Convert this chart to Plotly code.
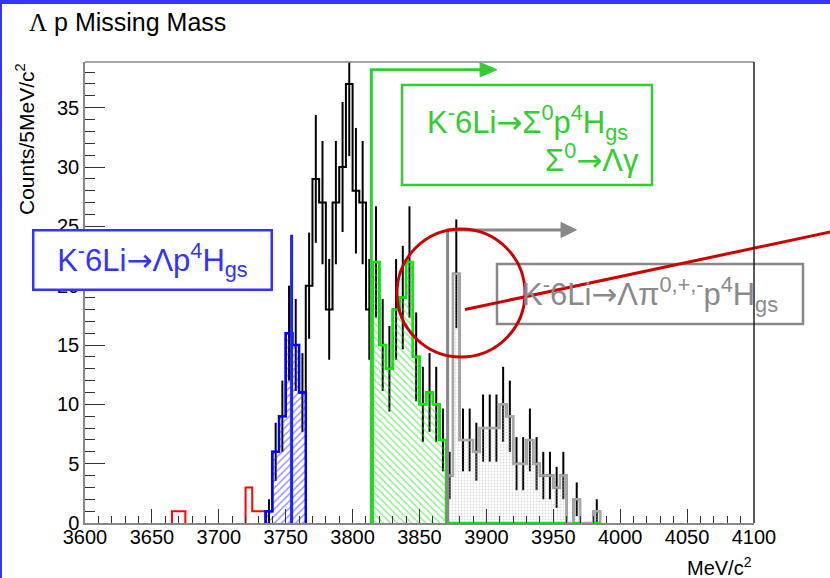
import numpy as np
import plotly.graph_objects as go

BIN_WIDTH = 5.0  # MeV/c^2 per bin

# All Lambda-p events, 5 MeV/c^2 bins starting at 3735 MeV/c^2
all_start = 3735.0
all_counts = [1, 6, 9, 16, 15, 11,
              20, 29, 27, 18, 27, 30, 37, 28, 27, 18,
              22, 15, 13, 18, 19, 22, 14, 10, 11, 10, 7,
              4, 21, 7, 7, 6, 8, 8, 8, 10, 9, 5, 5, 7, 5, 4, 4, 3, 4, 0, 2, 0, 0, 1]

# Channel windows (bin edges, MeV/c^2)
lambda_p_range = (3735.0, 3765.0)
sigma0_range = (3815.0, 3870.0)
lambda_pi_range = (3870.0, 3985.0)

# Events below the Lambda-p window
low_starts = [3665.0, 3720.0]
low_counts = [[1, 1], [3, 1, 1]]

# Thresholds (MeV/c^2) and marker heights (counts)
thr_lambda_p, thr_lambda_p_top = 3754.4, 24.3
thr_sigma0, thr_sigma0_top, thr_sigma0_tip = 3814.0, 38.2, 3907.8
thr_lambda_pi, thr_lambda_pi_top, thr_lambda_pi_tip = 3871.0, 24.7, 3967.3

x_ticks = list(range(3600, 4101, 50))
y_ticks = list(range(0, 36, 5))
X_RANGE = (3600, 4100)
Y_MAX = 38.85

W, H = 830, 578
ML, MR, MT, MB = 85, 76, 62, 55
FONT = "Liberation Sans, Arial, sans-serif"
ARROW = "<span style='font-family:DejaVu Sans'>→</span>"
LABEL_SIZE = 31


def px(x):
    return (x - ML) / (W - ML - MR)


def py(y):
    return (H - MB - y) / (H - MT - MB)


def step_xy(start, counts):
    xs, ys = [start], [0]
    for i, c in enumerate(counts):
        x0 = start + i * BIN_WIDTH
        xs += [x0, x0 + BIN_WIDTH]
        ys += [c, c]
    xs.append(start + len(counts) * BIN_WIDTH)
    ys.append(0)
    return xs, ys


def window(rng):
    i0 = int(round((rng[0] - all_start) / BIN_WIDTH))
    i1 = int(round((rng[1] - all_start) / BIN_WIDTH))
    return rng[0], all_counts[i0:i1]


counts = np.array(all_counts, dtype=float)
centers = all_start + BIN_WIDTH * (np.arange(len(counts)) + 0.5)
nz = counts > 0

fig = go.Figure()

# full spectrum outline
sx, sy = step_xy(all_start, all_counts)
fig.add_trace(go.Scatter(x=sx, y=sy, mode="lines",
                         line=dict(color="black", width=2), hoverinfo="skip"))
# Poisson error bars
fig.add_trace(go.Scatter(x=centers[nz], y=counts[nz], mode="markers",
                         marker=dict(size=1, color="black"),
                         error_y=dict(type="data", array=np.sqrt(counts[nz]),
                                      color="black", thickness=2, width=0),
                         hoverinfo="skip"))

# low-mass events
for s, c in zip(low_starts, low_counts):
    lx, ly = step_xy(s, c)
    fig.add_trace(go.Scatter(x=lx, y=ly, mode="lines",
                             line=dict(color="#ff0000", width=2), hoverinfo="skip"))

# Lambda p 4H window
bs, bc = window(lambda_p_range)
bx, by = step_xy(bs, bc)
fig.add_trace(go.Scatter(x=bx, y=by, mode="lines", fill="toself",
                         fillcolor="rgba(0,0,0,0)",
                         fillpattern=dict(shape="/", fgcolor="#3030ff", size=5, solidity=0.3),
                         line=dict(color="#0000ff", width=2.5), hoverinfo="skip"))

# Lambda pi p 4H window
gs_, gc = window(lambda_pi_range)
gx, gy = step_xy(gs_, gc)
fig.add_trace(go.Scatter(x=gx, y=gy, mode="lines", fill="toself",
                         fillcolor="rgba(0,0,0,0)",
                         fillpattern=dict(shape=".", fgcolor="#b8b8b8", size=3, solidity=0.3),
                         line=dict(color="#a8a8a8", width=2.5), hoverinfo="skip"))

# Sigma0 p 4H window
ss, sc = window(sigma0_range)
qx, qy = step_xy(ss, sc)
fig.add_trace(go.Scatter(x=qx, y=qy, mode="lines", fill="toself",
                         fillcolor="rgba(0,0,0,0)",
                         fillpattern=dict(shape="\\", fgcolor="#22dd22", size=5, solidity=0.3),
                         line=dict(color="#00ee00", width=2.5), hoverinfo="skip"))
# its empty bins under the Lambda-pi window
zx, zy = [], []
for i, c in enumerate(gc):
    if c > 0:
        x0 = gs_ + i * BIN_WIDTH
        zx += [x0, x0 + BIN_WIDTH, None]
        zy += [0, 0, None]
fig.add_trace(go.Scatter(x=zx, y=zy, mode="lines",
                         line=dict(color="#00ee00", width=2.5), hoverinfo="skip"))

shapes = []
# threshold markers
shapes.append(dict(type="line", xref="x", yref="y", x0=thr_lambda_p, x1=thr_lambda_p,
                   y0=0, y1=thr_lambda_p_top, line=dict(color="#2020ff", width=3)))
green = "#33cc33"
shapes.append(dict(type="path", xref="x", yref="y",
                   path=f"M{thr_sigma0},0 L{thr_sigma0},{thr_sigma0_top} L{thr_sigma0_tip - 10},{thr_sigma0_top}",
                   line=dict(color=green, width=3)))
shapes.append(dict(type="path", xref="x", yref="y",
                   path=f"M{thr_sigma0_tip - 12.5},{thr_sigma0_top - 0.6} L{thr_sigma0_tip},{thr_sigma0_top} "
                        f"L{thr_sigma0_tip - 12.5},{thr_sigma0_top + 0.6} Z",
                   line=dict(color=green, width=1), fillcolor=green))
grey = "#888888"
shapes.append(dict(type="path", xref="x", yref="y",
                   path=f"M{thr_lambda_pi},0 L{thr_lambda_pi},{thr_lambda_pi_top} L{thr_lambda_pi_tip - 10},{thr_lambda_pi_top}",
                   line=dict(color=grey, width=3)))
shapes.append(dict(type="path", xref="x", yref="y",
                   path=f"M{thr_lambda_pi_tip - 11.5},{thr_lambda_pi_top - 0.63} L{thr_lambda_pi_tip},{thr_lambda_pi_top} "
                        f"L{thr_lambda_pi_tip - 11.5},{thr_lambda_pi_top + 0.63} Z",
                   line=dict(color=grey, width=1), fillcolor=grey))

# channel label frames
shapes.append(dict(type="rect", xref="paper", yref="paper", x0=px(402), x1=px(652),
                   y0=py(185), y1=py(85), line=dict(color=green, width=2.5)))
shapes.append(dict(type="rect", xref="paper", yref="paper", x0=px(497), x1=px(803),
                   y0=py(324), y1=py(264), line=dict(color=grey, width=2.5)))

# highlight of the narrow peak
red = "#cc0000"
shapes.append(dict(type="circle", xref="paper", yref="paper", x0=px(397), x1=px(525),
                   y0=py(357), y1=py(229), line=dict(color=red, width=3)))
shapes.append(dict(type="line", xref="paper", yref="paper", x0=px(465), y0=py(309.5),
                   x1=px(832), y1=py(231.6), line=dict(color=red, width=3)))

# canvas border
shapes.append(dict(type="rect", xref="paper", yref="paper", x0=px(0), x1=px(W),
                   y0=py(4), y1=py(0), line=dict(width=0), fillcolor="#3535ff"))
shapes.append(dict(type="rect", xref="paper", yref="paper", x0=px(0), x1=px(2),
                   y0=py(H), y1=py(0), line=dict(width=0), fillcolor="#3535ff"))
# frame top and right
shapes.append(dict(type="line", xref="paper", yref="paper", x0=0, x1=1, y0=1, y1=1,
                   line=dict(color="#888888", width=1.5)))
shapes.append(dict(type="line", xref="paper", yref="paper", x0=1, x1=1, y0=0, y1=1,
                   line=dict(color="#222222", width=1.5)))

blue_t = "#3333ff"
annotations = [
    dict(text="<span style='font-family:Liberation Serif'>Λ</span> p Missing Mass",
         xref="paper", yref="paper", x=px(27), y=py(22), xanchor="left", yanchor="middle",
         showarrow=False, font=dict(family=FONT, size=25, color="black")),
    dict(text="Counts/5MeV/c<sup>2</sup>", xref="paper", yref="paper", x=px(25), y=py(61),
         xanchor="center", yanchor="top", textangle=-90, showarrow=False,
         font=dict(family=FONT, size=21, color="black")),
    dict(text="MeV/c<sup>2</sup>", xref="paper", yref="paper", x=px(754), y=py(566),
         xanchor="right", yanchor="middle", showarrow=False,
         font=dict(family=FONT, size=20, color="black")),
    dict(text=f"K<sup>-</sup>6Li{ARROW}Λp<sup>4</sup>H<sub>gs</sub>", xref="paper", yref="paper",
         x=px(152.5), y=py(260), xanchor="center", yanchor="middle", showarrow=False,
         width=236, height=57, bgcolor="white", bordercolor=blue_t, borderwidth=2.5, borderpad=0,
         font=dict(family=FONT, size=LABEL_SIZE, color=blue_t)),
    dict(text=f"K<sup>-</sup>6Li{ARROW}Σ<sup>0</sup>p<sup>4</sup>H<sub>gs</sub>", xref="paper", yref="paper",
         x=px(527), y=py(122), xanchor="center", yanchor="middle", showarrow=False,
         font=dict(family=FONT, size=LABEL_SIZE, color=green)),
    dict(text=f"Σ<sup>0</sup>{ARROW}Λγ", xref="paper", yref="paper",
         x=px(641), y=py(158), xanchor="right", yanchor="middle", showarrow=False,
         font=dict(family=FONT, size=LABEL_SIZE, color=green)),
    dict(text=f"K<sup>-</sup>6Li{ARROW}Λπ<sup>0,+,-</sup>p<sup>4</sup>H<sub>gs</sub>", xref="paper", yref="paper",
         x=px(650), y=py(294), xanchor="center", yanchor="middle", showarrow=False,
         font=dict(family=FONT, size=LABEL_SIZE, color="#8a8a8a")),
]

fig.update_layout(
    width=W, height=H,
    margin=dict(l=ML, r=MR, t=MT, b=MB, pad=0),
    paper_bgcolor="white", plot_bgcolor="white",
    showlegend=False,
    shapes=shapes, annotations=annotations,
    font=dict(family=FONT, size=20, color="black"),
    xaxis=dict(range=list(X_RANGE), tickmode="array", tickvals=x_ticks,
               ticktext=[str(v) for v in x_ticks],
               ticks="inside", ticklen=14, tickwidth=1, tickcolor="#333333",
               minor=dict(ticks="inside", ticklen=7, dtick=10, tick0=3600,
                          tickwidth=1, tickcolor="#333333", showgrid=False),
               showline=True, linecolor="#888888", linewidth=1.5,
               showgrid=False, zeroline=False, tickfont=dict(size=20),
               ticklabelstandoff=-5),
    yaxis=dict(range=[0, Y_MAX], tickmode="array", tickvals=y_ticks,
               ticktext=[str(v) for v in y_ticks],
               ticks="inside", ticklen=20, tickwidth=1, tickcolor="#333333",
               minor=dict(ticks="inside", ticklen=10, dtick=1, tick0=0,
                          tickwidth=1, tickcolor="#333333", showgrid=False),
               showline=True, linecolor="#888888", linewidth=1.5,
               showgrid=False, zeroline=False, tickfont=dict(size=20)),
)

fig.write_html("out.html")
